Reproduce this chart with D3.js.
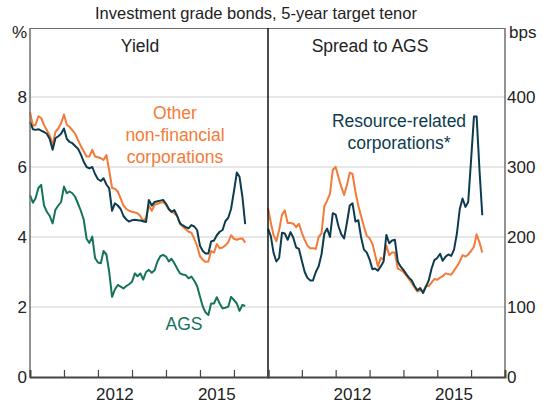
<!DOCTYPE html>
<html>
<head>
<meta charset="utf-8">
<script src="https://d3js.org/d3.v7.min.js"></script>
<style>
	body { margin: 0; background: #fff; }
	svg { font-family: "Liberation Sans", Arial, sans-serif; }
	.grid line { stroke: #cfcfcf; stroke-width: 1; }
	.series { fill: none; stroke-width: 2; stroke-linejoin: round; }
	.lbl { font-size: 17px; fill: #222; }
</style>
</head>
<body>
<div id="chart"></div>
<script>
// monthly observations, Jan 2010 .. May 2016
var months = d3.timeMonth.range(new Date(2010, 0, 1), new Date(2016, 5, 1));

// yields, per cent
var otherYield = [7.58,7.18,7.2,7.45,7.4,7.2,7.05,6.9,6.63,7.0,7.1,7.25,7.5,7.2,7.15,7.05,6.95,6.77,6.6,6.45,
	6.3,6.3,6.49,6.3,6.28,6.25,6.2,6.34,5.9,5.4,5.38,5.3,5.1,4.9,4.8,4.75,4.72,4.7,4.68,4.6,
	4.45,4.55,4.9,4.75,4.92,4.95,4.98,5.0,4.92,4.78,4.72,4.68,4.6,4.38,4.3,4.22,4.15,4.12,3.95,3.75,
	3.45,3.35,3.29,3.3,3.6,3.55,3.8,3.68,3.7,3.76,3.85,4.05,3.95,3.92,3.95,3.96,3.84];
var resourceYield = [7.29,7.08,7.06,7.08,7.04,7.0,6.95,6.8,6.49,6.82,6.88,6.95,7.1,6.8,6.72,6.68,6.6,6.52,6.36,6.15,
	6.0,5.96,6.0,5.8,5.65,5.6,5.68,5.5,5.39,4.75,4.96,4.9,4.8,4.6,4.5,4.44,4.48,4.49,4.48,4.47,
	4.45,4.43,5.06,4.9,5.0,5.02,5.04,5.06,4.95,4.8,4.72,4.77,4.6,4.39,4.33,4.28,4.25,4.34,4.3,4.2,
	3.75,3.6,3.53,3.53,3.87,3.9,4.05,4.15,4.2,4.45,4.55,4.8,5.3,5.84,5.72,5.15,4.37];
var agsYield = [5.2,4.98,5.1,5.4,5.49,4.9,4.72,4.6,4.39,4.78,4.9,5.0,5.44,5.25,5.3,5.25,5.15,4.95,4.75,4.5,
	3.95,3.83,4.01,3.4,3.27,3.25,3.6,3.5,3.0,2.29,2.5,2.63,2.58,2.53,2.6,2.65,2.72,2.96,2.88,2.96,
	2.78,3.0,3.06,2.98,3.05,3.3,3.45,3.49,3.44,3.3,3.38,3.25,3.1,2.96,2.93,2.91,2.82,2.87,2.75,2.6,
	2.3,2.01,1.85,1.77,2.1,2.1,2.28,2.1,1.96,1.98,2.01,2.29,2.2,2.1,1.89,2.06,2.03];

// spreads to AGS, bps
var otherSpread = [241,220,203,194,210,232,238,220,220,219,214,219,206,196,188,184,184,183,200,205,
	244,252,262,296,300,285,272,260,274,292,290,265,245,230,215,202,198,190,175,158,
	170,168,188,174,178,178,155,153,150,145,140,134,128,122,124,122,130,130,135,140,
	139,142,144,148,147,146,152,158,165,174,172,175,180,186,204,192,178];
var resourceSpread = [212,201,178,165,170,206,205,196,207,199,185,183,166,150,142,138,138,150,158,175,
	205,212,200,234,232,215,204,198,220,245,248,222,224,200,182,178,168,154,155,152,
	158,165,203,191,195,196,165,158,153,147,142,138,130,124,127,120,129,138,155,167,
	170,176,166,172,175,173,182,205,240,255,243,250,310,372,372,295,231];

var yieldTicks = [0, 2, 4, 6, 8];
var spreadTicks = [0, 100, 200, 300, 400];
var yearTicks = [2011, 2012, 2013, 2014, 2015, 2016];
var yearLabels = [2012, 2015];

var colOther = "#f47a38", colRes = "#0d3c4f", colAgs = "#14735a";

var W = 546, H = 405;
var x0 = 30, xMid = 268, x1 = 505, yTop = 28, yBot = 377;

var svg = d3.select("#chart").append("svg")
	.attr("width", W).attr("height", H);

var xL = d3.scaleTime().domain([new Date(2010, 0, 1), new Date(2017, 0, 1)]).range([x0, xMid]);
var xR = d3.scaleTime().domain([new Date(2010, 0, 1), new Date(2017, 0, 1)]).range([xMid, x1]);
var yL = d3.scaleLinear().domain([0, 8]).range([yBot, yBot - 8 * 35]);
var yR = d3.scaleLinear().domain([0, 400]).range([yBot, yBot - 8 * 35]);

// gridlines
svg.append("g").attr("class", "grid")
	.selectAll("line").data(yieldTicks.slice(1)).enter().append("line")
	.attr("x1", x0).attr("x2", x1)
	.attr("y1", function(d){ return yL(d); }).attr("y2", function(d){ return yL(d); });

// series
function drawLine(x, y, vals, col) {
	var line = d3.line()
		.x(function(d, i){ return x(months[i]); })
		.y(function(d){ return y(d); });
	svg.append("path").attr("class", "series")
		.attr("d", line(vals)).attr("stroke", col);
}
drawLine(xL, yL, agsYield, colAgs);
drawLine(xL, yL, otherYield, colOther);
drawLine(xL, yL, resourceYield, colRes);
drawLine(xR, yR, otherSpread, colOther);
drawLine(xR, yR, resourceSpread, colRes);

// frame
svg.append("line").attr("x1", x0).attr("x2", x0).attr("y1", yTop).attr("y2", yBot)
	.attr("stroke", "#6f6f6f").attr("stroke-width", 1.5);
svg.append("line").attr("x1", x1).attr("x2", x1).attr("y1", yTop).attr("y2", yBot)
	.attr("stroke", "#6f6f6f").attr("stroke-width", 1.5);
svg.append("line").attr("x1", x0).attr("x2", x1).attr("y1", yTop + 0.5).attr("y2", yTop + 0.5)
	.attr("stroke", "#6f6f6f").attr("stroke-width", 1);
svg.append("line").attr("x1", xMid).attr("x2", xMid).attr("y1", yTop).attr("y2", yBot)
	.attr("stroke", "#111").attr("stroke-width", 1.5);

// x axes, ticks pointing up into the plot
function xAxis(x) {
	var g = svg.append("g").attr("transform", "translate(0," + yBot + ")")
		.call(d3.axisBottom(x)
			.tickValues(yearTicks.map(function(y){ return new Date(y, 0, 1); }))
			.tickSize(-7).tickFormat(""));
	g.select(".domain").attr("stroke", "#444").attr("stroke-width", 2);
	g.selectAll(".tick line").attr("stroke", "#444").attr("stroke-width", 1.2);
	svg.selectAll(null).data(yearLabels).enter().append("text")
		.attr("class", "lbl").attr("text-anchor", "middle")
		.attr("x", function(d){ return x(new Date(d, 6, 1)); })
		.attr("y", 400)
		.text(function(d){ return d; });
}
xAxis(xL);
xAxis(xR);

// y labels
svg.selectAll(null).data(yieldTicks).enter().append("text")
	.attr("class", "lbl").attr("text-anchor", "end")
	.attr("x", 27).attr("y", function(d){ return yL(d) + 6; })
	.text(function(d){ return d; });
svg.selectAll(null).data(spreadTicks).enter().append("text")
	.attr("class", "lbl").attr("text-anchor", "start")
	.attr("x", 507).attr("y", function(d){ return yR(d) + 6; })
	.text(function(d){ return d; });

svg.append("text").attr("class", "lbl").attr("x", 12).attr("y", 38).text("%");
svg.append("text").attr("class", "lbl").attr("x", 509).attr("y", 38).text("bps");

// titles
svg.append("text").attr("class", "lbl").attr("text-anchor", "middle")
	.attr("x", 256).attr("y", 19).style("font-size", "16.5px")
	.text("Investment grade bonds, 5-year target tenor");
svg.append("text").attr("class", "lbl").attr("text-anchor", "middle")
	.attr("x", 140).attr("y", 52).style("font-size", "17.5px").text("Yield");
svg.append("text").attr("class", "lbl").attr("text-anchor", "middle")
	.attr("x", 370).attr("y", 52).style("font-size", "17.5px").text("Spread to AGS");

// series labels
function label(x, y, lines, col) {
	var t = svg.append("text").attr("class", "lbl").attr("text-anchor", "middle")
		.style("fill", col).style("font-size", "17.5px");
	lines.forEach(function(s, i){
		t.append("tspan").attr("x", x).attr("y", y + i * 22).text(s);
	});
}
label(175, 119, ["Other", "non-financial", "corporations"], colOther);
label(399, 127, ["Resource-related", "corporations*"], colRes);
label(184, 330, ["AGS"], colAgs);
</script>
</body>
</html>
